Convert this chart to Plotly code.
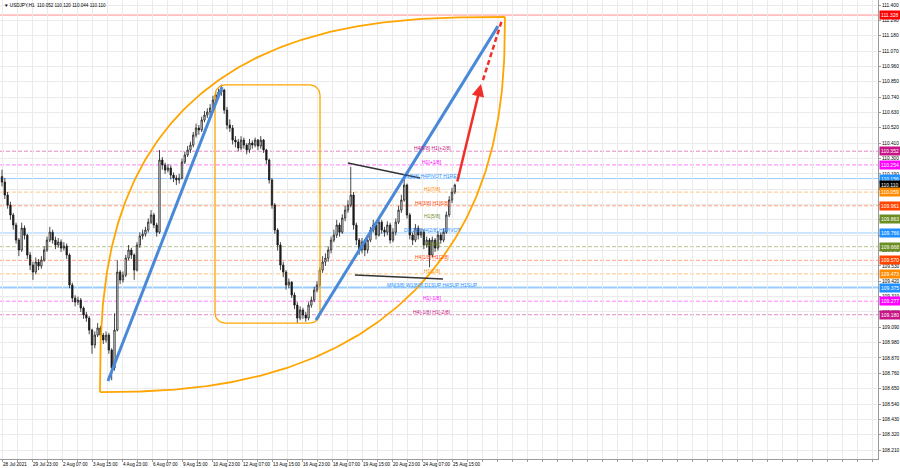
import numpy as np
import plotly.graph_objects as go

# ---------------- data ----------------
symbol_header = "\u25BC USDJPY,H1  110.052 110.120 110.044 110.110"

# candles (one entry every 3 H1 bars), bar index = 3*i
closes = [110.131, 110.038, 109.966, 109.895, 109.823, 109.715, 109.644, 109.801, 109.750, 109.608,
          109.536, 109.486, 109.558, 109.529, 109.572, 109.644, 109.715, 109.772, 109.715, 109.680,
          109.701, 109.658, 109.672, 109.608, 109.393, 109.300, 109.271, 109.285, 109.228, 109.178,
          109.156, 109.070, 108.963, 109.034, 109.085, 109.034, 108.999, 109.034, 108.927, 108.798,
          109.070, 109.486, 109.429, 109.464, 109.586, 109.644, 109.608, 109.500, 109.680, 109.744,
          109.758, 109.787, 109.844, 109.895, 109.823, 109.772, 110.289, 110.253, 110.217, 110.232,
          110.181, 110.160, 110.146, 110.160, 110.275, 110.325, 110.361, 110.396, 110.468, 110.518,
          110.504, 110.576, 110.611, 110.633, 110.662, 110.719, 110.755, 110.776, 110.791, 110.647,
          110.540, 110.518, 110.432, 110.418, 110.375, 110.432, 110.396, 110.361, 110.411, 110.396,
          110.432, 110.389, 110.432, 110.361, 110.289, 110.146, 109.966, 109.787, 109.680, 109.536,
          109.486, 109.393, 109.414, 109.321, 109.249, 109.156, 109.214, 109.178, 109.156, 109.249,
          109.285, 109.357, 109.393, 109.500, 109.558, 109.586, 109.644, 109.715, 109.751, 109.823,
          109.772, 109.873, 109.930, 109.966, 110.038, 109.823, 109.715, 109.644, 109.701, 109.644,
          109.715, 109.787, 109.823, 109.751, 109.844, 109.787, 109.772, 109.823, 109.715, 109.772,
          109.844, 109.930, 110.002, 110.110, 109.895, 109.751, 109.715, 109.801, 109.751, 109.772,
          109.680, 109.715, 109.608, 109.715, 109.658, 109.751, 109.715, 109.772, 109.895, 110.002,
          110.059, 110.110]
highs = [110.22, 110.16, 110.06, 109.99, 109.91, 109.84, 109.73, 109.84, 109.82, 109.76,
         109.63, 109.56, 109.59, 109.58, 109.60, 109.67, 109.74, 109.81, 109.79, 109.74,
         109.73, 109.72, 109.70, 109.69, 109.62, 109.41, 109.32, 109.31, 109.30, 109.24,
         109.20, 109.17, 109.08, 109.06, 109.12, 109.10, 109.05, 109.06, 109.05, 108.94,
         109.19, 109.57, 109.50, 109.49, 109.61, 109.68, 109.66, 109.62, 109.70, 109.77,
         109.79, 109.81, 109.87, 109.93, 109.91, 109.84, 110.36, 110.31, 110.27, 110.26,
         110.25, 110.20, 110.18, 110.19, 110.30, 110.35, 110.39, 110.42, 110.49, 110.55,
         110.54, 110.60, 110.64, 110.66, 110.69, 110.75, 110.78, 110.80, 110.83, 110.80,
         110.67, 110.58, 110.54, 110.46, 110.44, 110.46, 110.45, 110.41, 110.44, 110.43,
         110.45, 110.44, 110.46, 110.44, 110.37, 110.30, 110.16, 109.98, 109.80, 109.70,
         109.56, 109.50, 109.44, 109.42, 109.34, 109.27, 109.24, 109.23, 109.20, 109.27,
         109.31, 109.38, 109.42, 109.52, 109.60, 109.62, 109.67, 109.74, 109.79, 109.86,
         109.84, 109.90, 109.96, 110.00, 110.24, 110.06, 109.84, 109.73, 109.73, 109.72,
         109.74, 109.81, 109.86, 109.84, 109.87, 109.86, 109.81, 109.85, 109.84, 109.80,
         109.87, 109.96, 110.04, 110.16, 110.12, 109.91, 109.77, 109.83, 109.82, 109.80,
         109.79, 109.74, 109.73, 109.74, 109.73, 109.78, 109.77, 109.80, 109.92, 110.03,
         110.09, 110.120]
lows = [110.10, 110.01, 109.94, 109.86, 109.79, 109.69, 109.60, 109.63, 109.72, 109.58,
        109.50, 109.43, 109.47, 109.50, 109.51, 109.56, 109.63, 109.70, 109.69, 109.65,
        109.66, 109.63, 109.64, 109.58, 109.37, 109.27, 109.24, 109.25, 109.20, 109.15,
        109.13, 109.04, 108.90, 108.94, 109.02, 109.01, 108.97, 108.98, 108.90, 108.71,
        108.78, 109.06, 109.40, 109.41, 109.45, 109.57, 109.58, 109.43, 109.49, 109.66,
        109.72, 109.74, 109.77, 109.83, 109.80, 109.74, 109.76, 110.22, 110.19, 110.20,
        110.15, 110.13, 110.11, 110.12, 110.15, 110.26, 110.31, 110.34, 110.38, 110.45,
        110.47, 110.49, 110.56, 110.59, 110.61, 110.65, 110.70, 110.73, 110.75, 110.62,
        110.51, 110.49, 110.40, 110.38, 110.35, 110.36, 110.37, 110.33, 110.34, 110.37,
        110.38, 110.36, 110.37, 110.34, 110.26, 110.12, 109.94, 109.76, 109.64, 109.50,
        109.45, 109.36, 109.37, 109.30, 109.22, 109.12, 109.14, 109.15, 109.13, 109.14,
        109.23, 109.27, 109.34, 109.38, 109.48, 109.53, 109.56, 109.62, 109.70, 109.73,
        109.74, 109.76, 109.85, 109.91, 109.95, 109.79, 109.68, 109.61, 109.62, 109.60,
        109.62, 109.70, 109.77, 109.72, 109.74, 109.76, 109.74, 109.75, 109.69, 109.70,
        109.75, 109.83, 109.91, 109.99, 109.87, 109.72, 109.68, 109.70, 109.72, 109.73,
        109.65, 109.66, 109.52, 109.59, 109.63, 109.64, 109.69, 109.70, 109.76, 109.88,
        109.98, 110.044]
first_open = 110.17
bar_step = 3

# time axis labels (every 32 H1 bars)
time_labels = ["28 Jul 2021", "29 Jul 23:00", "2 Aug 07:00", "3 Aug 15:00", "4 Aug 23:00",
               "6 Aug 07:00", "9 Aug 15:00", "10 Aug 23:00", "12 Aug 07:00", "13 Aug 15:00",
               "16 Aug 23:00", "18 Aug 07:00", "19 Aug 15:00", "20 Aug 23:00", "24 Aug 07:00",
               "25 Aug 15:00"]
price_ticks = [111.400, 111.290, 111.180, 111.070, 110.960, 110.850, 110.740, 110.630, 110.520,
               110.410, 110.300, 110.190, 110.080, 109.970, 109.860, 109.750, 109.640, 109.530,
               109.420, 109.310, 109.200, 109.090, 108.980, 108.870, 108.760, 108.650, 108.540,
               108.430, 108.320, 108.210]

# Murrey levels
level_prices = [110.352, 110.254, 110.156, 110.059, 109.961, 109.863, 109.766, 109.668,
                109.570, 109.473, 109.375, 109.277, 109.180]
level_texts = ["H4[5/8] H1[+2/8]", "H1[+1/8]", "D1[2/8] H4PIVOT H1RES", "H1[7/8]",
               "H4[3/8] H1[6/8]", "H1[5/8]", "D1[1/8] H4[2/8] H1PIVOT", "H1[3/8]",
               "H4[1/8] H1[2/8]", "H1[1/8]", "MN[3/8] W1[8/8] D1SUP H4SUP H1SUP",
               "H1[-1/8]", "H4[-1/8] H1[-2/8]"]
level_colors = ["#C71585", "#FF00FF", "#1E90FF", "#FF8C00", "#FF4500", "#6B8E23", "#1E90FF",
                "#6B8E23", "#FF4500", "#FF8C00", "#1E90FF", "#FF00FF", "#C71585"]
level_solid = [False, False, True, False, False, False, True, False, False, False, True, False, False]
level_width = [1, 1, 1, 1, 1, 1, 1, 1, 1, 1, 2, 1, 1]
label_bar = 458.7

top_line_price = 111.328
bid_price = 110.110

# drawing anchors (bar index, price)
trend1 = [(113.0, 108.705), (234.7, 110.812)]
trend2 = [(334.9, 109.142), (529.0, 111.249)]
channel_top = [(369.0, 110.267), (445.9, 110.160)]
channel_bot = [(376.5, 109.465), (470.4, 109.436)]
arrow_solid = [(485.3, 110.124), (510.9, 110.834)]
arrow_dash = [(513.0, 110.862), (533.3, 111.292)]
box = [(227.2, 110.827), (339.2, 109.120)]
lens = [(104.5, 108.626), (536.5, 111.314)]
lens_power_upper = 2.7
lens_power_lower = 2.45

# ---------------- figure ----------------
X_RANGE = [-2.133, 934.4]
Y_RANGE = [108.146, 111.436]
PX_X = 878 / (X_RANGE[1] - X_RANGE[0])
PX_Y = 459 / (Y_RANGE[1] - Y_RANGE[0])
FONT = "Liberation Sans"

opens = [first_open] + closes[:-1]
hi = [max(h, o, c) for h, o, c in zip(highs, opens, closes)]
lo = [min(l, o, c) for l, o, c in zip(lows, opens, closes)]
bars = [bar_step * i for i in range(len(closes))]

fig = go.Figure()

# lens (two superelliptic arcs)
(ax_, ay_), (bx_, by_) = lens
t = np.linspace(0, np.pi / 2, 240)
eu = 2 / lens_power_upper
el = 2 / lens_power_lower
ux = bx_ - (bx_ - ax_) * np.cos(t) ** eu
uy = ay_ + (by_ - ay_) * np.sin(t) ** eu
lx = ax_ + (bx_ - ax_) * np.cos(t) ** el
ly = by_ - (by_ - ay_) * np.sin(t) ** el
for xs, ys in [(ux, uy), (lx, ly)]:
    fig.add_trace(go.Scatter(x=xs, y=ys, mode="lines", line=dict(color="#FFA500", width=1.8),
                             hoverinfo="skip", showlegend=False))

# rounded rectangle
(x0, y0), (x1, y1) = box
r_x, r_y = 10 / PX_X, 10 / PX_Y
ang = np.linspace(0, np.pi / 2, 12)
pts_x, pts_y = [], []
corners = [(x1 - r_x, y0 - r_y, 0), (x0 + r_x, y0 - r_y, 1), (x0 + r_x, y1 + r_y, 2), (x1 - r_x, y1 + r_y, 3)]
for cx, cy, k in corners:
    a = ang + k * np.pi / 2
    pts_x += list(cx + r_x * np.cos(a))
    pts_y += list(cy + r_y * np.sin(a))
pts_x.append(pts_x[0]); pts_y.append(pts_y[0])
fig.add_trace(go.Scatter(x=pts_x, y=pts_y, mode="lines", line=dict(color="#FFA500", width=1.3),
                         hoverinfo="skip", showlegend=False))

# candles
fig.add_trace(go.Candlestick(x=bars, open=opens, high=hi, low=lo, close=closes,
                             increasing=dict(line=dict(color="#1a1a1a", width=0.8), fillcolor="#ffffff"),
                             decreasing=dict(line=dict(color="#1a1a1a", width=0.8), fillcolor="#1a1a1a"),
                             whiskerwidth=0, hoverinfo="skip", showlegend=False))

# trend lines
for seg, col, w in [(trend1, "#4A88D8", 3), (trend2, "#4A88D8", 3),
                    (channel_top, "#333333", 1.5), (channel_bot, "#333333", 1.5)]:
    fig.add_trace(go.Scatter(x=[seg[0][0], seg[1][0]], y=[seg[0][1], seg[1][1]], mode="lines",
                             line=dict(color=col, width=w), hoverinfo="skip", showlegend=False))

fig.add_trace(go.Scatter(x=[arrow_dash[0][0], arrow_dash[1][0]], y=[arrow_dash[0][1], arrow_dash[1][1]],
                         mode="lines", line=dict(color="#F03028", width=2.5, dash="5px,3px"),
                         hoverinfo="skip", showlegend=False))

shapes = []
annotations = []

def hexrgba(h, a):
    h = h.lstrip("#")
    return "rgba(%d,%d,%d,%.2f)" % (int(h[0:2], 16), int(h[2:4], 16), int(h[4:6], 16), a)

shapes.append(dict(type="line", xref="paper", x0=0, x1=1, yref="y", y0=top_line_price, y1=top_line_price,
                   line=dict(color=hexrgba("#FF0000", 0.45), width=1), layer="below"))
for p, col, solid, w in zip(level_prices, level_colors, level_solid, level_width):
    shapes.append(dict(type="line", xref="paper", x0=0, x1=1, yref="y", y0=p, y1=p,
                       line=dict(color=hexrgba(col, 0.45 if solid else 0.5), width=w,
                                 dash="solid" if solid else "4px,2px"), layer="below"))

# level texts
for p, txt, col in zip(level_prices, level_texts, level_colors):
    annotations.append(dict(x=label_bar, y=p, xref="x", yref="y", text=txt, showarrow=False,
                            font=dict(size=5, color=col, family=FONT),
                            xanchor="center", yanchor="bottom", yshift=-2))

# right price tags
tag_prices = [top_line_price] + level_prices[:3] + [bid_price] + level_prices[3:]
tag_colors = ["#FF0000"] + level_colors[:3] + ["#000000"] + level_colors[3:]
for p, col in zip(tag_prices, tag_colors):
    annotations.append(dict(x=1, y=p, xref="paper", yref="y", text="%.3f" % p, showarrow=False,
                            xanchor="left", yanchor="middle", xshift=1, bgcolor=col, borderpad=1,
                            font=dict(size=5, color="white", family=FONT)))

# red arrow
annotations.append(dict(x=arrow_solid[1][0], y=arrow_solid[1][1], ax=arrow_solid[0][0], ay=arrow_solid[0][1],
                        xref="x", yref="y", axref="x", ayref="y", text="", showarrow=True,
                        arrowhead=2, arrowsize=1, arrowwidth=2.5, arrowcolor="#F03028"))

# header
annotations.append(dict(x=0, y=1, xref="paper", yref="paper", text=symbol_header, showarrow=False,
                        xanchor="left", yanchor="top", xshift=2, yshift=-1,
                        font=dict(size=4.6, color="#000000", family=FONT)))

xtickvals = list(range(0, 929, 16))
xticktext = []
for v in xtickvals:
    if v % 32 == 0 and v // 32 < len(time_labels):
        xticktext.append(time_labels[v // 32])
    else:
        xticktext.append("")

fig.update_layout(
    width=900, height=468,
    margin=dict(l=0, r=22, t=0, b=9, pad=0, autoexpand=False),
    paper_bgcolor="white", plot_bgcolor="white",
    shapes=shapes, annotations=annotations,
    showlegend=False,
    font=dict(family=FONT, size=5, color="#000000"),
    xaxis=dict(range=X_RANGE, rangeslider=dict(visible=False), tickmode="array",
               tickvals=xtickvals, ticktext=xticktext, ticklabelposition="outside right",
               tickangle=0, automargin=False,
               showgrid=True, gridcolor="#ebebeb", gridwidth=1, zeroline=False,
               showline=True, linecolor="#9a9a9a", linewidth=1, mirror=True,
               ticks="outside", ticklen=2, tickcolor="#9a9a9a",
               tickfont=dict(size=4.6, color="#000000")),
    yaxis=dict(range=Y_RANGE, side="right", tickmode="array", tickvals=price_ticks,
               ticktext=["%.3f" % v for v in price_ticks], automargin=False,
               showgrid=True, gridcolor="#ebebeb", gridwidth=1, zeroline=False,
               showline=True, linecolor="#9a9a9a", linewidth=1, mirror=True,
               ticks="outside", ticklen=2, tickcolor="#9a9a9a",
               tickfont=dict(size=4.8, color="#000000")),
)

fig.write_html("out.html", config={"displayModeBar": False},
               post_script="document.body.style.margin='0px';document.body.style.overflow='hidden';")
